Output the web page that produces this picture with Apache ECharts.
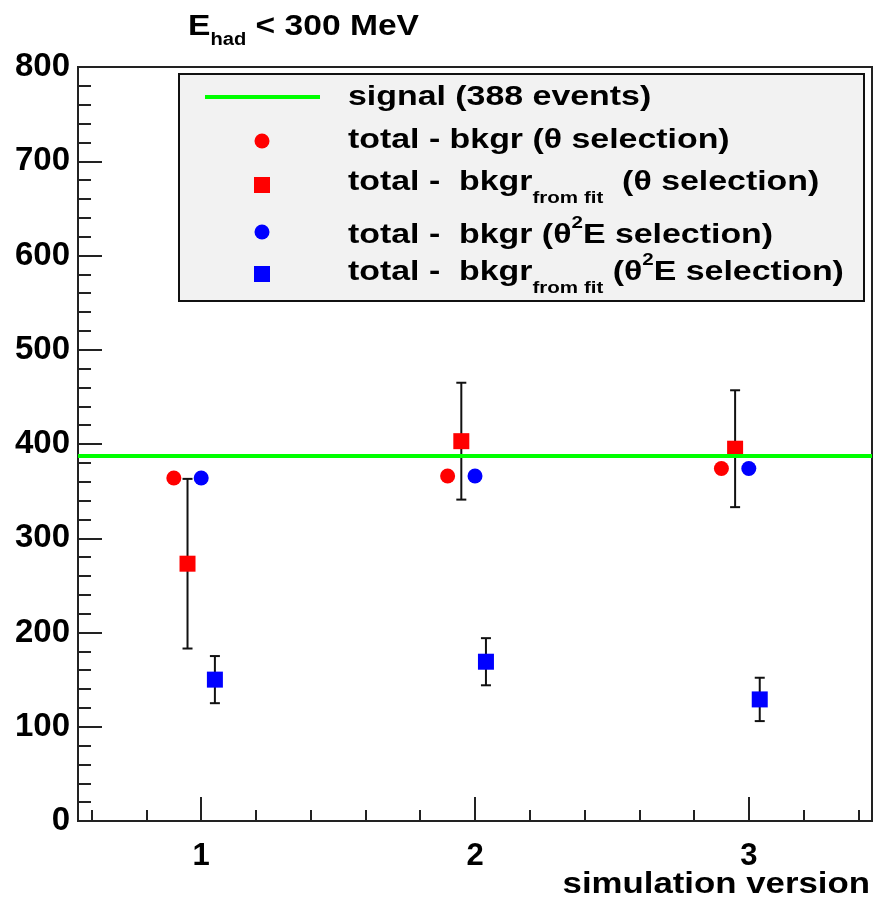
<!DOCTYPE html>
<html>
<head>
<meta charset="utf-8">
<script src="https://cdn.jsdelivr.net/npm/echarts@6/dist/echarts.min.js"></script>
<style>html,body{margin:0;padding:0;background:#fff;}#c{width:877px;height:900px;}</style>
</head>
<body>
<div id="c"></div>
<script>
// ---- data ----
const versions = [1, 2, 3];
const signalEvents = 388;
const redCircleX = [0.9, 1.9, 2.9];
const redCircleY = [364, 366, 374];
const redSquareX = [0.95, 1.95, 2.95];
const redSquareY = [273, 403, 395];
const redSquareErr = [90, 62, 62];
const blueCircleX = [1.0, 2.0, 3.0];
const blueCircleY = [364, 366, 374];
const blueSquareX = [1.05, 2.04, 3.04];
const blueSquareY = [150, 169, 129];
const blueSquareErr = [25, 25, 23];
const xMajorTicks = [1, 2, 3];
const xMinorTicks = [0.6, 0.8, 1.2, 1.4, 1.6, 1.8, 2.2, 2.4, 2.6, 2.8, 3.2, 3.4];
const xRange = [0.55, 3.45];
const yRange = [0, 800];
const yStep = 100;

const FONT = 'Liberation Sans';
const pts = (xs, ys) => xs.map((x, i) => [x, ys[i]]);
const errs = (xs, ys, es) => xs.map((x, i) => [x, ys[i] - es[i], ys[i] + es[i]]);

const chart = echarts.init(document.getElementById('c'), null, {renderer: 'canvas'});

const richRow = {
  m: {fontFamily: FONT, fontWeight: 'bold', fontSize: 28, lineHeight: 32, verticalAlign: 'middle', color: '#000'},
  sub: {fontFamily: FONT, fontWeight: 'bold', fontSize: 17, lineHeight: 17, padding: [32, 0, 0, 0], verticalAlign: 'middle', color: '#000'},
  sup: {fontFamily: FONT, fontWeight: 'bold', fontSize: 17, lineHeight: 17, padding: [0, 0, 24, 0], verticalAlign: 'middle', color: '#000'}
};
function legText(y, txt) {
  return {type: 'text', x: 348, y: y, scaleX: 1.21, z: 102,
    style: {text: txt, x: 0, y: 0, align: 'left', verticalAlign: 'middle', rich: richRow,
      fontFamily: FONT, fontWeight: 'bold', fontSize: 28, fill: '#000'}};
}

const option = {
  animation: false,
  backgroundColor: '#fff',
  grid: {left: 78, top: 67, right: 5, bottom: 79, show: true, borderColor: '#222', borderWidth: 2, backgroundColor: '#fff'},
  xAxis: [{
    type: 'value', min: xRange[0], max: xRange[1],
    axisLine: {show: true, onZero: false, lineStyle: {color: '#222', width: 2}},
    axisTick: {show: true, inside: true, length: 24, customValues: xMajorTicks, lineStyle: {color: '#222', width: 2}},
    axisLabel: {show: true, customValues: xMajorTicks, margin: 20, fontFamily: FONT, fontWeight: 'bold', fontSize: 31, color: '#000'},
    splitLine: {show: false}
  }, {
    type: 'value', min: xRange[0], max: xRange[1], position: 'bottom',
    axisLine: {show: false},
    axisTick: {show: true, inside: true, length: 11, customValues: xMinorTicks, lineStyle: {color: '#222', width: 2}},
    axisLabel: {show: false},
    splitLine: {show: false}
  }],
  yAxis: {
    type: 'value', min: yRange[0], max: yRange[1], interval: yStep,
    axisLine: {show: true, lineStyle: {color: '#222', width: 2}},
    axisTick: {show: true, inside: true, length: 24, lineStyle: {color: '#222', width: 2}},
    minorTick: {show: true, splitNumber: 5, length: 13, lineStyle: {color: '#222', width: 2}},
    axisLabel: {margin: 8, fontFamily: FONT, fontWeight: 'bold', fontSize: 33, color: '#000'},
    splitLine: {show: false}
  },
  series: [
    {
      type: 'line', data: [], z: 1,
      markLine: {silent: true, symbol: 'none', label: {show: false},
        lineStyle: {color: '#00ff00', width: 4, type: 'solid'},
        data: [{yAxis: signalEvents}]}
    },
    {
      type: 'custom', z: 2,
      data: errs(redSquareX, redSquareY, redSquareErr).concat(errs(blueSquareX, blueSquareY, blueSquareErr)),
      renderItem: function (params, api) {
        const lo = api.coord([api.value(0), api.value(1)]);
        const hi = api.coord([api.value(0), api.value(2)]);
        const st = {stroke: '#111', lineWidth: 2};
        const c = 5;
        return {type: 'group', children: [
          {type: 'line', shape: {x1: lo[0], y1: lo[1], x2: hi[0], y2: hi[1]}, style: st},
          {type: 'line', shape: {x1: lo[0] - c, y1: lo[1], x2: lo[0] + c, y2: lo[1]}, style: st},
          {type: 'line', shape: {x1: hi[0] - c, y1: hi[1], x2: hi[0] + c, y2: hi[1]}, style: st}
        ]};
      }
    },
    {type: 'scatter', z: 3, symbol: 'circle', symbolSize: 15, itemStyle: {color: '#ff0000', opacity: 1}, data: pts(redCircleX, redCircleY)},
    {type: 'scatter', z: 3, symbol: 'rect', symbolSize: 16, itemStyle: {color: '#ff0000', opacity: 1}, data: pts(redSquareX, redSquareY)},
    {type: 'scatter', z: 3, symbol: 'circle', symbolSize: 15, itemStyle: {color: '#0000ff', opacity: 1}, data: pts(blueCircleX, blueCircleY)},
    {type: 'scatter', z: 3, symbol: 'rect', symbolSize: 16, itemStyle: {color: '#0000ff', opacity: 1}, data: pts(blueSquareX, blueSquareY)}
  ],
  graphic: [
    {type: 'text', x: 188, y: 27, scaleX: 1.12, z: 102,
      style: {text: '{e|E}{s|had}{e| < 300 MeV}', x: 0, y: 0, align: 'left', verticalAlign: 'middle',
        rich: {
          e: {fontFamily: FONT, fontWeight: 'bold', fontSize: 30, lineHeight: 34, verticalAlign: 'middle', color: '#000'},
          s: {fontFamily: FONT, fontWeight: 'bold', fontSize: 18, lineHeight: 18, padding: [26, 0, 0, 0], verticalAlign: 'middle', color: '#000'}
        }}},
    {type: 'text', x: 870, y: 885, scaleX: 1.2, z: 102,
      style: {text: 'simulation version', x: 0, y: 0, align: 'right', verticalAlign: 'middle',
        fontFamily: FONT, fontWeight: 'bold', fontSize: 29, fill: '#000'}},
    {type: 'rect', left: 178, top: 73, z: 100, shape: {width: 685, height: 227}, style: {fill: '#f2f2f2', stroke: '#111', lineWidth: 2}},
    {type: 'line', z: 101, shape: {x1: 205, y1: 97, x2: 320, y2: 97}, style: {stroke: '#00ff00', lineWidth: 4}},
    {type: 'circle', z: 101, shape: {cx: 262, cy: 141, r: 7.5}, style: {fill: '#ff0000'}},
    {type: 'rect', z: 101, shape: {x: 254, y: 177, width: 16, height: 16}, style: {fill: '#ff0000'}},
    {type: 'circle', z: 101, shape: {cx: 262, cy: 232, r: 7.5}, style: {fill: '#0000ff'}},
    {type: 'rect', z: 101, shape: {x: 254, y: 266, width: 16, height: 16}, style: {fill: '#0000ff'}},
    legText(97, '{m|signal (388 events)}'),
    legText(140, '{m|total - bkgr (θ selection)}'),
    legText(182, '{m|total -  bkgr}{sub|from fit}{m|  (θ selection)}'),
    legText(235, '{m|total -  bkgr (θ}{sup|2}{m|E selection)}'),
    legText(272, '{m|total -  bkgr}{sub|from fit}{m| (θ}{sup|2}{m|E selection)}')
  ]
};
chart.setOption(option);
</script>
</body>
</html>
